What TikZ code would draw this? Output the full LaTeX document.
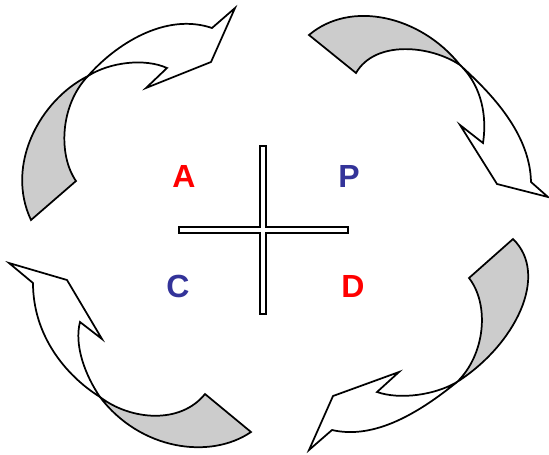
\documentclass[tikz,border=0pt]{standalone}
\usepackage{fontspec}
\setsansfont{Liberation Sans}
\usepackage{tikz}
\usepackage{xcolor}
\definecolor{cyclered}{RGB}{255,0,0}
\definecolor{cycleblue}{RGB}{51,51,153}
\definecolor{ribbongray}{RGB}{204,204,204}

\tikzset{
    ribbonfront/.style={draw=black, fill=white, line width=1.3pt, line join=miter},
    ribbonback/.style={draw=black, fill=ribbongray, line width=1.3pt, line join=miter},
    crossbar/.style={draw=black, fill=white, line width=1.3pt},
    phase/.style={font=\fontsize{24}{28}\selectfont\sffamily\bfseries, inner sep=0pt}
}

\begin{document}
\begin{tikzpicture}[x=0.75pt, y=-0.75pt]
                \useasboundingbox (0,0) rectangle (549,454);

                % top left arrow
                \coordinate (tlx) at (88,76);
                \draw[ribbonback] (tlx) .. controls (40,100) and (5,165) .. (31,220) -- (76,181) .. controls (58,155) and (60,105) .. (tlx) -- cycle;
                \draw[ribbonfront] (tlx) .. controls (115,45) and (165,12) .. (212,28) -- (235,8) -- (211,62) -- (146,88) -- (167,68) .. controls (145,58) and (110,62) .. (tlx) -- cycle;

                % top right arrow
                \coordinate (trx) at (460,65);
                \draw[ribbonback] (309,35) .. controls (350,0) and (420,15) .. (trx) .. controls (430,45) and (375,40) .. (356,73) -- cycle;
                \draw[ribbonfront] (trx) .. controls (485,88) and (530,130) .. (531,182) -- (548,197) -- (497,184) -- (460,125) -- (483,143) .. controls (488,110) and (478,82) .. (trx) -- cycle;

                % bottom right arrow
                \coordinate (brx) at (457,382);
                \draw[ribbonback] (513,239) -- (469,278) .. controls (490,305) and (485,355) .. (brx) .. controls (515,345) and (550,275) .. (513,239) -- cycle;
                \draw[ribbonfront] (brx) .. controls (420,412) and (375,440) .. (332,430) -- (309,450) -- (333,396) -- (399,372) -- (377,392) .. controls (400,400) and (435,395) .. (brx) -- cycle;

                % bottom left arrow
                \coordinate (blx) at (100,397);
                \draw[ribbonback] (205,394) -- (251,432) .. controls (210,460) and (140,450) .. (blx) .. controls (130,420) and (180,425) .. (205,394) -- cycle;
                \draw[ribbonfront] (blx) .. controls (65,375) and (33,335) .. (33,283) -- (9,263) -- (67,280) -- (102,339) -- (80,322) .. controls (74,345) and (85,375) .. (blx) -- cycle;

                % cross
                \draw[crossbar] (260,146) -- (266,146) -- (266,227) -- (348,227) -- (348,233) -- (266,233) -- (266,314) -- (260,314) -- (260,233) -- (179,233) -- (179,227) -- (260,227) -- cycle;

                \node[phase, text=cyclered] (act) at (184,176) {A};
                \node[phase, text=cycleblue] (plan) at (349,176) {P};
                \node[phase, text=cycleblue] (check) at (178,286) {C};
                \node[phase, text=cyclered] (do) at (353,286) {D};
            \end{tikzpicture}
\end{document}
